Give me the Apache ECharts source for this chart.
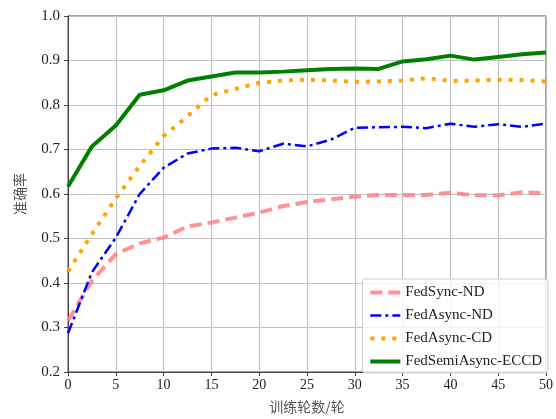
<!DOCTYPE html>
<html>
<head>
<meta charset="utf-8">
<script src="https://cdn.jsdelivr.net/npm/echarts@6/dist/echarts.min.js"></script>
<style>
  html, body { margin: 0; padding: 0; background: #fff; }
  #main { width: 556px; height: 419px; }
</style>
</head>
<body>
<div id="main"></div>
<script>
// 训练轮数
var rounds = [0, 2.5, 5, 7.5, 10, 12.5, 15, 17.5, 20, 22.5, 25, 27.5, 30, 32.5, 35, 37.5, 40, 42.5, 45, 47.5, 50];
var yTicks = [0.2, 0.3, 0.4, 0.5, 0.6, 0.7, 0.8, 0.9, 1.0];

var fedSyncND = [0.315, 0.405, 0.465, 0.489, 0.502, 0.527, 0.536, 0.547, 0.558, 0.573, 0.582,
  0.588, 0.594, 0.598, 0.598, 0.598, 0.603, 0.597, 0.597, 0.604, 0.602];
var fedAsyncND = [0.287, 0.424, 0.502, 0.600, 0.659, 0.691, 0.702, 0.704, 0.696, 0.713, 0.707,
  0.722, 0.749, 0.750, 0.751, 0.748, 0.758, 0.751, 0.757, 0.751, 0.758];
var fedAsyncCD = [0.426, 0.510, 0.590, 0.663, 0.730, 0.775, 0.822, 0.836, 0.850, 0.855, 0.857,
  0.855, 0.852, 0.853, 0.855, 0.860, 0.854, 0.855, 0.857, 0.856, 0.853];
var fedSemiAsyncECCD = [0.617, 0.707, 0.754, 0.823, 0.833, 0.855, 0.864, 0.873, 0.873, 0.875, 0.878,
  0.881, 0.882, 0.881, 0.898, 0.903, 0.911, 0.902, 0.908, 0.914, 0.918];

var serif = 'Liberation Serif';
var cjk = 'Noto Sans CJK SC';

// 线型
var styles = {
  'FedSync-ND': { color: '#ff8080', width: 4, type: [12, 6], opacity: 0.85 },
  'FedAsync-ND': { color: '#0000ff', width: 2.5, type: [11, 4, 3, 4] },
  'FedAsync-CD': { color: '#ffa500', width: 4, type: [4, 7] },
  'FedSemiAsync-ECCD': { color: '#008000', width: 4, type: 'solid' }
};

function pairs(arr) {
  return rounds.map(function (r, i) { return [r, arr[i]]; });
}

function makeSeries(name, arr) {
  return {
    name: name, type: 'line', symbol: 'none',
    data: pairs(arr),
    itemStyle: { color: styles[name].color },
    lineStyle: styles[name]
  };
}

var chart = echarts.init(document.getElementById('main'));

var option = {
  animation: false,
  grid: {
    left: 68, right: 7, top: 16, bottom: 46,
    show: true, borderColor: '#444', borderWidth: 1
  },
  legend: {
    right: 8, bottom: 46,
    orient: 'vertical',
    itemWidth: 30, itemHeight: 12, itemGap: 8,
    padding: [6, 6, 4, 6],
    backgroundColor: 'rgba(255,255,255,0.8)',
    borderColor: '#ccc', borderWidth: 1, borderRadius: 3,
    itemStyle: { opacity: 0 },
    textStyle: { fontFamily: serif, fontSize: 15, color: '#222' },
    data: Object.keys(styles).map(function (k) {
      return { name: k, lineStyle: styles[k] };
    }),
    z: 10
  },
  xAxis: {
    type: 'value', min: 0, max: 50, interval: 5,
    name: '训练轮数/轮', nameLocation: 'middle', nameGap: 28,
    nameTextStyle: { fontFamily: cjk, fontSize: 14, color: '#555' },
    axisLine: { lineStyle: { color: '#444', width: 1 } },
    axisTick: { show: true, inside: false, length: 4, lineStyle: { color: '#444' } },
    axisLabel: { fontFamily: serif, fontSize: 14, color: '#222', margin: 6 },
    splitLine: { show: true, lineStyle: { color: '#c0c0c0', width: 1.2 } }
  },
  yAxis: {
    type: 'value', min: yTicks[0], max: yTicks[yTicks.length - 1], interval: 0.1,
    name: '准确率', nameLocation: 'middle', nameGap: 41, nameRotate: 90,
    nameTextStyle: { fontFamily: cjk, fontSize: 14, color: '#555' },
    axisLine: { show: true, lineStyle: { color: '#444', width: 1 } },
    axisTick: { show: true, inside: false, length: 4, lineStyle: { color: '#444' } },
    axisLabel: {
      fontFamily: serif, fontSize: 15, color: '#222', margin: 8,
      formatter: function (v) { return v.toFixed(1); }
    },
    splitLine: { show: true, lineStyle: { color: '#c0c0c0', width: 1.2 } }
  },
  series: [
    makeSeries('FedSync-ND', fedSyncND),
    makeSeries('FedAsync-ND', fedAsyncND),
    makeSeries('FedAsync-CD', fedAsyncCD),
    makeSeries('FedSemiAsync-ECCD', fedSemiAsyncECCD)
  ]
};

chart.setOption(option);
</script>
</body>
</html>
